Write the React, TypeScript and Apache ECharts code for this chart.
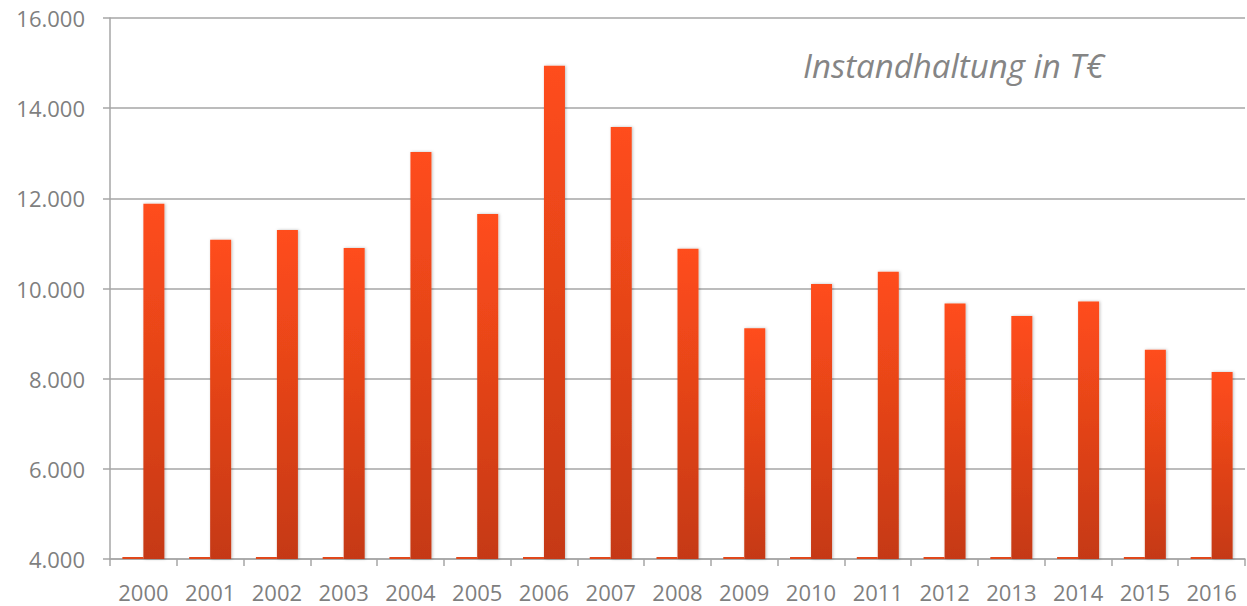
import React, { useEffect, useRef } from "react";
import * as echarts from "echarts";

const years = ["2000","2001","2002","2003","2004","2005","2006","2007","2008","2009","2010","2011","2012","2013","2014","2015","2016"];
const instandhaltung = [11880, 11080, 11300, 10900, 13030, 11650, 14940, 13580, 10880, 9120, 10100, 10370, 9670, 9390, 9710, 8640, 8150];
const baseSeries = [4045, 4045, 4045, 4045, 4045, 4045, 4045, 4045, 4045, 4045, 4045, 4045, 4045, 4045, 4045, 4045, 4045];
const titleText = "Instandhaltung in T€";

const fmt = (v: number) => String(v).replace(/\B(?=(\d{3})+(?!\d))/g, ".");

export default function App() {
  const ref = useRef<HTMLDivElement>(null);
  useEffect(() => {
    const chart = echarts.init(ref.current!, null, { renderer: "svg" });
    const grey = "#a6a6a6";
    chart.setOption({
      animation: false,
      title: {
        text: titleText,
        left: 798,
        top: 44,
        textStyle: { fontFamily: "Open Sans", fontStyle: "italic", fontWeight: "normal", fontSize: 33, color: "#858585" },
      },
      grid: { left: 110, top: 18, right: 2, bottom: 47, containLabel: false },
      xAxis: {
        type: "category",
        data: years,
        axisLine: { lineStyle: { color: grey, width: 1.5 } },
        axisTick: { show: true, length: 7, lineStyle: { color: grey, width: 1.5 } },
        axisLabel: { color: "#7f7f7f", fontSize: 22, fontFamily: "Open Sans", margin: 22 },
      },
      yAxis: {
        type: "value",
        min: 4000,
        max: 16000,
        interval: 2000,
        axisLine: { show: true, lineStyle: { color: grey, width: 1.5 } },
        axisTick: { show: true, inside: false, length: 7, lineStyle: { color: grey, width: 1.5 } },
        splitLine: { show: true, lineStyle: { color: grey, width: 1.5 } },
        axisLabel: { color: "#7f7f7f", fontSize: 22, fontFamily: "Open Sans", margin: 25, formatter: (v: number) => fmt(v) },
      },
      series: [
        {
          type: "bar",
          data: baseSeries,
          barWidth: 21,
          barGap: "0%",
          z: 5,
          itemStyle: { color: "#e0481b" },
        },
        {
          type: "bar",
          data: instandhaltung,
          barWidth: 21,
          itemStyle: {
            color: new echarts.graphic.LinearGradient(0, 0, 0, 1, [
              { offset: 0, color: "#ff4d1c" },
              { offset: 1, color: "#c53914" },
            ]),
            shadowColor: "rgba(0,0,0,0.25)",
            shadowBlur: 3,
            shadowOffsetX: 1,
            shadowOffsetY: 0,
          },
        },
      ],
    });
    return () => chart.dispose();
  }, []);
  return <div ref={ref} style={{ position: "absolute", left: 0, top: 0, width: 1247, height: 606 }} />;
}
